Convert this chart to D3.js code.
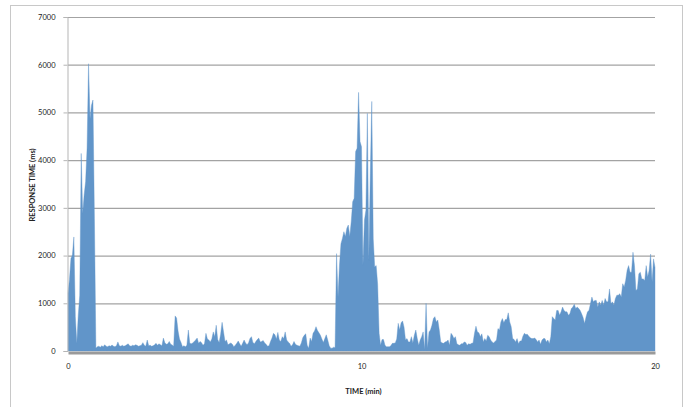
<!DOCTYPE html>
<html>
<head>
<meta charset="utf-8">
<script src="https://cdn.jsdelivr.net/npm/d3@7"></script>
<style>
  body { margin: 0; background: #fff; }
  svg { display: block; }
  text { font-family: Lato, "Open Sans", sans-serif; fill: #222; }
</style>
</head>
<body>
<svg id="chart" width="692" height="407"></svg>
<script>
// Response time samples, one every 0.05 min (3 s), from 0 to 20 min
const sampleStepMin = 0.05;
const responseMs = [
  1210, 1500, 1940, 2010, 2390, 720, 160, 750, 1170, 4140,
  2880, 3270, 3550, 4250, 6020, 4870, 5150, 5260, 2780,
  60, 90, 100, 80, 110, 90, 130, 100, 90, 110, 100, 125, 100, 90, 110, 190,
  110, 100, 120, 100, 110, 130, 150, 110, 100, 120, 110, 130, 120, 100, 110,
  120, 175, 120, 100, 230, 110, 120, 100, 110, 130, 160, 120, 150, 130, 110,
  270, 175, 140, 150, 200, 140, 125, 100,
  735, 690, 420, 250, 180, 90, 110, 90, 120, 440, 160, 150, 170, 200, 230,
  270, 160, 200, 175, 120, 150, 370, 250, 230, 190, 250, 400, 300, 540, 240,
  180, 350, 600, 400, 200, 230, 130, 150, 170, 140, 90, 120, 160, 210, 150,
  100, 160, 230, 170, 130, 170, 260, 300, 180, 150, 200, 240, 270, 190, 200,
  220, 170, 140, 100, 110, 200, 270, 370, 340, 250, 390, 230, 200, 300, 260,
  400, 230, 190, 160, 100, 130, 200, 140, 120, 110, 100, 170, 280, 330, 360,
  120, 60, 270, 200, 370, 420, 510, 430, 380, 330, 250, 180, 260, 340, 230,
  110, 60, 60, 80, 70,
  2040, 1130, 1800, 2250, 2360, 2500, 2400, 2570, 2640, 2400, 2710, 3130,
  3200, 4180, 4250, 5420, 4390, 4280, 1800, 2740, 2950, 4980, 1900, 3720,
  5230, 2350, 1760, 1790, 1400, 370, 120, 240, 240, 120, 90, 90, 90, 110,
  160, 160, 170, 250, 580, 440, 590, 630, 500, 230, 260, 190, 190, 300, 170,
  330, 440, 260, 120, 230, 300, 400, 30, 1000, 60, 400, 440, 540, 680,
  720, 610, 650, 440, 190, 170, 160, 190, 200, 230, 120, 370, 330, 260, 300,
  150, 130, 120, 150, 150, 190, 180, 120, 150, 140, 160, 170, 370, 520, 400,
  380, 300, 360, 190, 260, 210, 330, 300, 230, 190, 170, 200, 230, 470, 440,
  610, 680, 590, 660, 660, 800, 610, 510, 260, 240, 190, 260, 150, 210, 210,
  310, 370, 345, 350, 310, 280, 260, 260, 270, 240, 190, 230, 140, 230, 260,
  260, 190, 230, 150, 300, 720, 680, 650, 850,
  850, 750, 820, 920, 850, 820, 820, 750, 780, 890, 920, 980, 890, 920, 890,
  850, 780, 700, 575, 715, 820, 850, 990, 1130, 1030, 1060, 1060, 920, 1030,
  960, 1060, 960, 1100, 1030, 1030, 1300, 990, 1030, 960, 1100, 1170, 1170,
  1200, 1130, 1410, 1340, 1480, 1690, 1790, 1650, 1650, 2070, 1790, 1270,
  1300, 1620, 1650, 1510, 1510, 1480, 1790, 1550, 1690, 2030, 1450, 1930, 1750
];
const xTickValues = [0, 10, 20];
const yTickValues = [0, 1000, 2000, 3000, 4000, 5000, 6000, 7000];
const xTitle = "TIME (min)";
const yTitle = "RESPONSE TIME (ms)";

const samples = responseMs.map((v, i) => ({ t: i * sampleStepMin, v }));

const svg = d3.select("#chart");
const plot = { left: 68, right: 655, top: 17, bottom: 351 };

const x = d3.scaleLinear().domain([0, 20]).range([plot.left, plot.right]);
const y = d3.scaleLinear().domain([0, 7000]).range([plot.bottom, plot.top]);

// Outer chart frame
svg.append("rect")
  .attr("x", 10.5).attr("y", 5.5)
  .attr("width", 672).attr("height", 420)
  .attr("fill", "none").attr("stroke", "#c8c8c8").attr("stroke-width", 1);

// Horizontal gridlines
const grid = svg.append("g")
  .attr("transform", `translate(${plot.left},0)`)
  .call(d3.axisLeft(y).tickValues(yTickValues.slice(1))
    .tickSize(-(plot.right - plot.left)).tickFormat(""));
grid.select(".domain").remove();
grid.selectAll("line").attr("stroke", "#a3a3a3").attr("stroke-width", 1.2);

// Response time area
const area = d3.area()
  .x(d => x(d.t))
  .y0(y(0))
  .y1(d => y(d.v));
svg.append("path")
  .datum(samples)
  .attr("d", area)
  .attr("fill", "#6195c9")
  .attr("stroke", "#6195c9")
  .attr("stroke-width", 0.4);

// Y axis
const yAxis = svg.append("g")
  .attr("transform", `translate(${plot.left - 0.5},0)`)
  .call(d3.axisLeft(y).tickValues(yTickValues).tickSize(4).tickPadding(8)
    .tickFormat(d3.format("d")));
yAxis.select(".domain").attr("stroke", "#b5b5b5");
yAxis.selectAll("line").attr("stroke", "#b5b5b5");
yAxis.selectAll("text").attr("font-size", 7.5).style("font-family", "Lato, 'Open Sans', sans-serif").attr("fill", "#222");

// X axis: thick baseline band with labels below
const xAxis = svg.append("g")
  .attr("transform", `translate(0,${plot.bottom + 1.5})`)
  .call(d3.axisBottom(x).tickValues(xTickValues).tickSize(0).tickPadding(11)
    .tickFormat(d3.format("d")));
xAxis.select(".domain").attr("stroke", "#9a9a9a").attr("stroke-width", 3);
xAxis.selectAll("text").attr("font-size", 7.5).style("font-family", "Lato, 'Open Sans', sans-serif").attr("fill", "#222");

// Axis titles
svg.append("text")
  .attr("x", (plot.left + plot.right) / 2 + 2).attr("y", 394)
  .attr("text-anchor", "middle")
  .attr("font-size", 7.5).attr("font-weight", "bold")
  .text(xTitle);

svg.append("text")
  .attr("transform", `translate(35,${(plot.top + plot.bottom) / 2 + 1}) rotate(-90)`)
  .attr("text-anchor", "middle")
  .attr("font-size", 7.5).attr("font-weight", "bold")
  .text(yTitle);
</script>
</body>
</html>
